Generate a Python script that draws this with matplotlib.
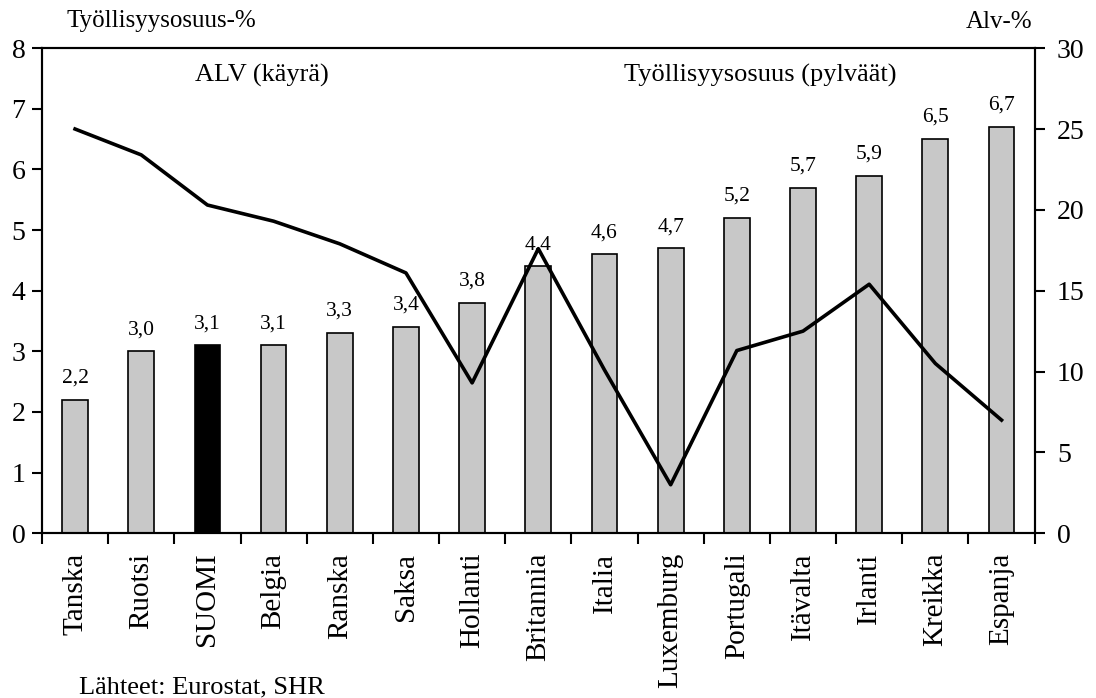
import matplotlib
matplotlib.use("Agg")
import matplotlib.pyplot as plt
import numpy as np

categories = ["Tanska", "Ruotsi", "SUOMI", "Belgia", "Ranska", "Saksa", "Hollanti",
              "Britannia", "Italia", "Luxemburg", "Portugali", "Itävalta", "Irlanti",
              "Kreikka", "Espanja"]
employment_share = [2.2, 3.0, 3.1, 3.1, 3.3, 3.4, 3.8, 4.4, 4.6, 4.7, 5.2, 5.7, 5.9, 6.5, 6.7]
vat_rate = [25.0, 23.4, 20.3, 19.3, 17.9, 16.1, 9.3, 17.6, 10.1, 3.0, 11.3, 12.5, 15.4, 10.5, 7.0]
value_labels = ["2,2", "3,0", "3,1", "3,1", "3,3", "3,4", "3,8", "4,4", "4,6", "4,7",
                "5,2", "5,7", "5,9", "6,5", "6,7"]
highlight = "SUOMI"

plt.rcParams['font.family'] = ['Liberation Serif', 'DejaVu Serif']

fig = plt.figure(figsize=(10.96, 6.98), dpi=100)
ax = fig.add_axes([0.0383, 0.236, 0.9057, 0.695])
x = np.arange(len(categories))
colors = ["black" if c == highlight else "#c8c8c8" for c in categories]
ax.bar(x, employment_share, width=0.39, color=colors, edgecolor="black", linewidth=1.2, zorder=2)
for xi, v, lab in zip(x, employment_share, value_labels):
    ax.text(xi, v + 0.2, lab, ha="center", va="bottom", fontsize=15.5)

ax.set_xlim(-0.5, len(categories) - 0.5)
ax.set_ylim(0, 8)
ax.set_yticks(range(0, 9))
ax.set_xticks(np.arange(-0.5, len(categories), 1.0))
ax.set_xticklabels([])
ax.set_xticks(x, minor=True)
ax.set_xticklabels(categories, minor=True, rotation=90, fontsize=21)
ax.tick_params(axis="x", which="minor", length=0, pad=14)
ax.tick_params(axis="x", which="major", length=8, width=1.5, direction="out")
ax.tick_params(axis="y", length=7, width=1.5, direction="out", labelsize=20, pad=5)
for s in ax.spines.values():
    s.set_linewidth(1.5)

ax2 = ax.twinx()
ax2.plot(x, vat_rate, color="black", linewidth=2.6, zorder=3)
ax2.set_ylim(0, 30)
ax2.set_yticks(range(0, 31, 5))
ax2.tick_params(axis="y", length=7, width=1.5, direction="out", labelsize=20, pad=9)
for s in ax2.spines.values():
    s.set_linewidth(1.5)

fig.text(0.061, 0.97, "Työllisyysosuus-%", fontsize=18, ha="left", va="center")
fig.text(0.942, 0.968, "Alv-%", fontsize=18, ha="right", va="center")
ax.text(2.82, 7.55, "ALV (käyrä)", fontsize=19, ha="center", va="center")
ax.text(10.35, 7.55, "Työllisyysosuus (pylväät)", fontsize=19, ha="center", va="center")
fig.text(0.072, 0.0, "Lähteet: Eurostat, SHR", fontsize=19, ha="left", va="bottom")

fig.savefig("out.png", dpi=100)
